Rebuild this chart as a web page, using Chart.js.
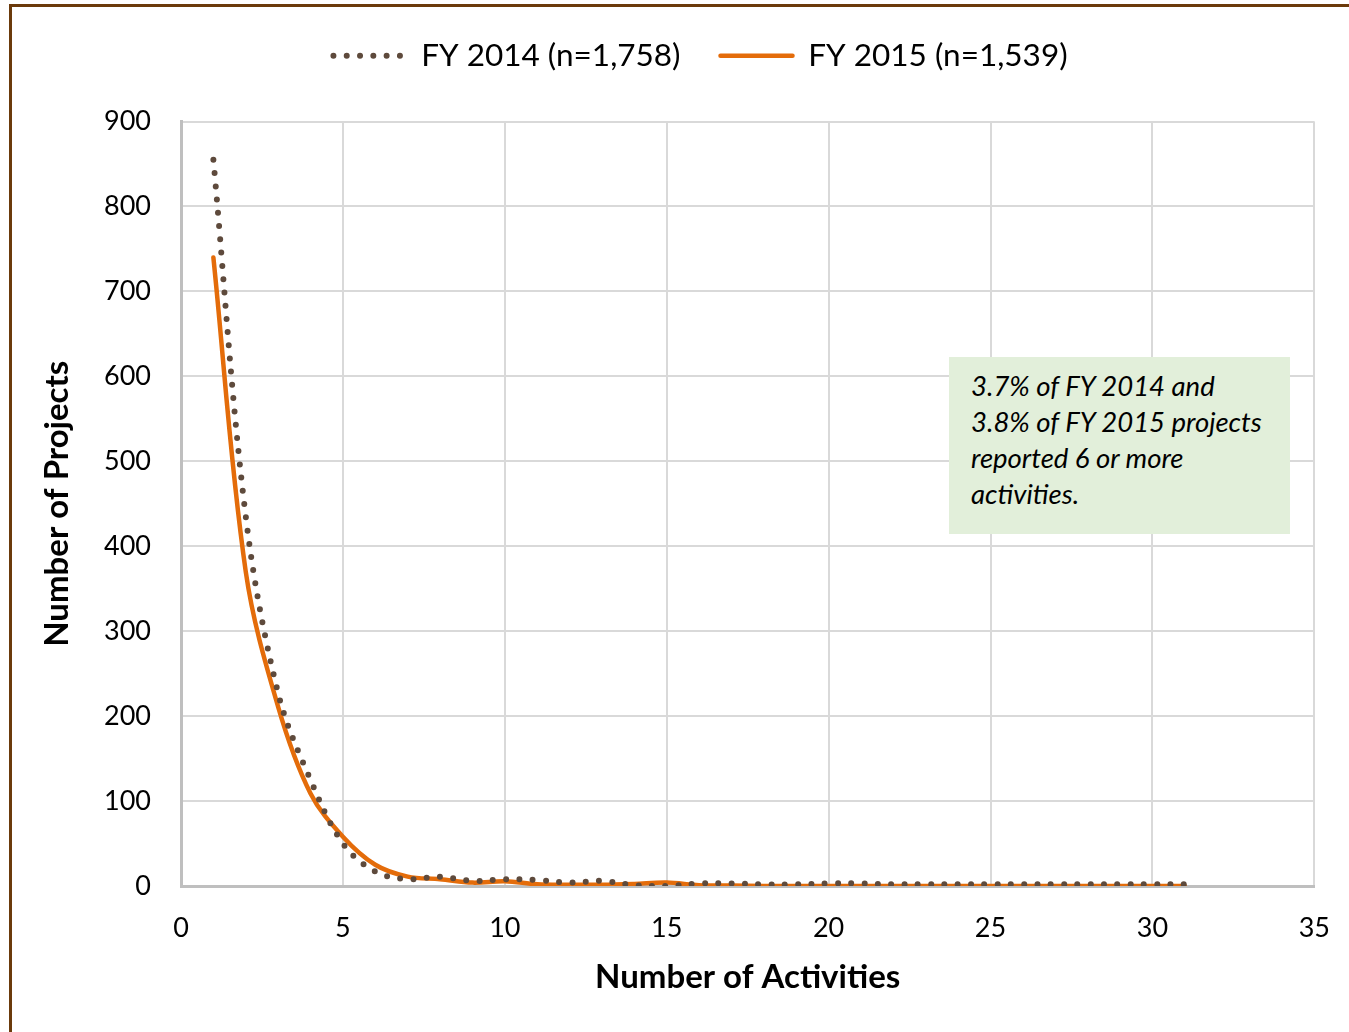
<!DOCTYPE html>
<html>
<head>
<meta charset="utf-8">
<script src="https://cdn.jsdelivr.net/npm/chart.js@4.4.1/dist/chart.umd.min.js"></script>
<style>
  html, body { margin:0; padding:0; background:#fff; overflow:hidden; }
  #wrap { position:relative; width:1349px; height:1032px; }
  #chart { position:absolute; left:0; top:0; }
  #frame { position:absolute; left:9px; top:4px; width:1400px; height:1100px;
           border-top:3px solid #6B3A0B; border-left:3px solid #6B3A0B; pointer-events:none; }
  #note { position:absolute; left:949px; top:357px; width:319px; height:166px;
          padding:11px 0 0 22px; background:#E2EFDA; color:#000;
          font:italic 27.5px Lato, sans-serif; line-height:36px; }
</style>
</head>
<body>
<div id="wrap">
  <canvas id="chart" width="1349" height="1032"></canvas>
  <div id="frame"></div>
  <div id="note">3.7% of FY 2014 and<br>3.8% of FY 2015 projects<br>reported 6 or more<br>activities.</div>
</div>
<script>
// data
const activities = [1,2,3,4,5,6,7,8,9,10,11,12,13,14,15,16,17,18,19,20,21,22,23,24,25,26,27,28,29,30,31];
const fy2014 = [855,435,227,125,50,17,8,11,6,8,7,4,6,1,0,3,3,2,2,3,3,2,2,2,2,2,2,2,2,2,2];
const fy2015 = [740,370,211,109,58,25,11,8,4,5.5,2,1.5,1.5,2.5,4,1,0.5,0,0,0,0,0,0,0,0,0,0,0,0,0,0];
const labels2014 = 'FY 2014 (n=1,758)';
const labels2015 = 'FY 2015 (n=1,539)';

Chart.defaults.font.family = 'Lato, sans-serif';
Chart.defaults.color = '#000';

const pts = ys => activities.map((x, i) => ({ x, y: ys[i] }));

// legend: more room below it (padding is shared top/bottom) and nudge it right
const legendPlace = {
  id: 'legendPlace',
  beforeInit(chart){
    const fit = chart.legend.fit;
    chart.legend.fit = function(){ fit.call(this); this.height += 40; };
  },
  afterLayout(chart){
    chart.legend.left += 29;
    chart.legend.right += 29;
  }
};

new Chart(document.getElementById('chart'), {
  type: 'line',
  data: {
    datasets: [
      { label: labels2014, data: pts(fy2014), borderColor:'#5E4A3C', backgroundColor:'#5E4A3C',
        borderWidth:6, borderDash:[0,13.3], borderCapStyle:'round', pointRadius:0, tension:0.35, fill:false },
      { label: labels2015, data: pts(fy2015), borderColor:'#E46C0A', backgroundColor:'#E46C0A',
        borderWidth:4.5, borderCapStyle:'round', pointRadius:0, tension:0.35, fill:false }
    ]
  },
  options: {
    responsive:false, animation:false,
    layout:{ padding:{ left:14, right:20, top:0, bottom:0 } },
    scales:{
      x:{
        type:'linear', min:0, max:35,
        ticks:{ stepSize:5, padding:19, font:{ size:27, lineHeight:1.7 } },
        grid:{ color:'#D9D9D9', lineWidth:2, drawTicks:false },
        border:{ color:'#BFBFBF', width:3 },
        title:{ display:true, text:'Number of Activities', font:{ size:33, weight:'bold' }, padding:{ top:0, bottom:35 } },
        afterFit: s => { s.height = 146; }
      },
      y:{
        min:0, max:900,
        ticks:{ stepSize:100, padding:30, font:{ size:27 } },
        grid:{ color:'#D9D9D9', lineWidth:2, drawTicks:false },
        border:{ color:'#BFBFBF', width:3 },
        title:{ display:true, text:'Number of Projects', font:{ size:33, weight:'bold' }, padding:{ top:24, bottom:0 } },
        afterFit: s => { s.width = 167; }
      }
    },
    plugins:{
      legend:{
        labels:{
          usePointStyle:true, pointStyle:'line', pointStyleWidth:72, padding:40,
          font:{ size:31.5 }, color:'#000',
          generateLabels: chart => Chart.defaults.plugins.legend.labels.generateLabels(chart).map((item, i) => {
            const ds = chart.data.datasets[i];
            return { ...item, lineDash: ds.borderDash || [], lineCap: ds.borderCapStyle,
                     lineWidth: ds.borderWidth, strokeStyle: ds.borderColor };
          })
        }
      },
      tooltip:{ enabled:false }
    }
  },
  plugins:[legendPlace]
});
</script>
</body>
</html>
